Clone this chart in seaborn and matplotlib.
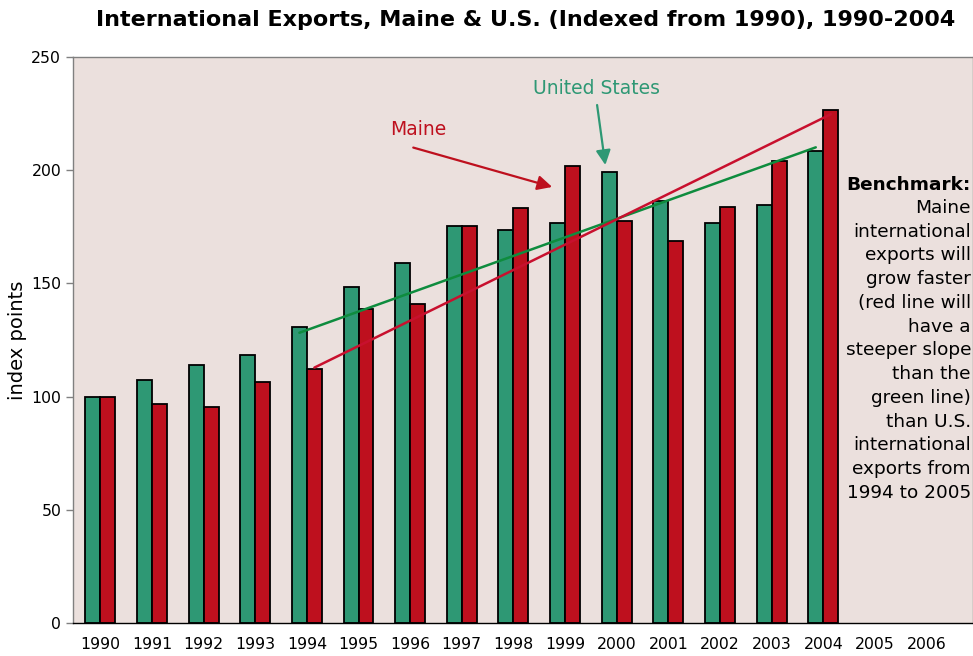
import numpy as np
import pandas as pd
import matplotlib
matplotlib.use("Agg")
import matplotlib.pyplot as plt
import seaborn as sns

# values (index, 1990 = 100)
years = [1990, 1991, 1992, 1993, 1994, 1995, 1996, 1997, 1998, 1999,
         2000, 2001, 2002, 2003, 2004]
axis_years = years + [2005, 2006]
us_index = [100, 107.5, 114.1, 118.5, 130.7, 148.4, 158.9, 175.5, 173.6,
            176.8, 199.1, 186.4, 176.8, 184.6, 208.6]
maine_index = [100, 96.9, 95.5, 106.3, 112.2, 138.6, 140.9, 175.5, 183.3,
               202.0, 177.6, 168.9, 183.6, 204.1, 226.6]

# trend lines, 1994 -> 2004
trend_years = [1994, 2004]
us_trend = [128.2, 210.1]
maine_trend = [112.8, 224.7]

benchmark = ["Maine", "international", "exports will", "grow faster",
             "(red line will", "have a", "steeper slope", "than the",
             "green line)", "than U.S.", "international", "exports from",
             "1994 to 2005"]

green = "#2E9874"
red = "#BE101E"
bg = "#EBE0DD"

df = pd.DataFrame({
    "year": [str(y) for y in years] * 2,
    "value": us_index + maine_index,
    "series": ["United States"] * len(years) + ["Maine"] * len(years),
})

sns.set_style("white")
plt.rcParams["font.family"] = ["DejaVu Sans"]
plt.rcParams["text.color"] = "black"
plt.rcParams["axes.labelcolor"] = "black"
plt.rcParams["xtick.color"] = "black"
plt.rcParams["ytick.color"] = "black"

fig = plt.figure(figsize=(9.73, 6.56), dpi=100)
ax = fig.add_axes([0.075, 0.0503, 0.925, 0.8628])
ax.set_facecolor(bg)

sns.barplot(data=df, x="year", y="value", hue="series",
            order=[str(y) for y in axis_years],
            hue_order=["United States", "Maine"],
            palette=[green, red], saturation=1, width=0.58,
            edgecolor="black", linewidth=1.3, legend=False, ax=ax)

# trend lines drawn from bar centres
half = 0.58 / 4
tx = [axis_years.index(y) for y in trend_years]
ax.plot([x - half for x in tx], us_trend, color="#0E8C3E", lw=1.8, zorder=5)
ax.plot([x + half for x in tx], maine_trend, color="#C8102E", lw=1.8, zorder=5)

ax.set_ylim(0, 250)
ax.set_yticks(range(0, 251, 50))
ax.set_xlim(-0.53, 16.9)
ax.set_xticks(range(len(axis_years)))
ax.set_xticklabels([str(y) for y in axis_years], fontsize=11.3)
ax.set_xticks(np.arange(-0.5, len(axis_years), 1), minor=True)
ax.tick_params(axis="x", which="major", length=0, pad=10)
ax.tick_params(axis="x", which="minor", length=5, width=1, color="black",
               direction="out")
ax.tick_params(axis="y", length=5, width=1, color="#808080",
               direction="out", labelsize=11.3, left=True)
ax.set_xlabel("")
ax.set_ylabel("index points", fontsize=14, labelpad=3)

for side in ["top", "left", "right"]:
    ax.spines[side].set_color("#808080")
    ax.spines[side].set_linewidth(1)
ax.spines["bottom"].set_color("black")
ax.spines["bottom"].set_linewidth(1)

# callouts
ax.text(6.16, 217.8, "Maine", color=red, fontsize=13.5,
        ha="center", va="center")
ax.annotate("", xy=(8.75, 192.6), xytext=(6.06, 210),
            arrowprops=dict(arrowstyle="-|>", color=red, lw=1.6,
                            mutation_scale=22, shrinkA=0, shrinkB=0))
ax.text(9.6, 235.9, "United States", color=green, fontsize=13.5,
        ha="center", va="center")
ax.annotate("", xy=(9.78, 202.3), xytext=(9.62, 228.8),
            arrowprops=dict(arrowstyle="-|>", color=green, lw=1.6,
                            mutation_scale=22, shrinkA=0, shrinkB=0))

fig.text(971 / 973, 1 - 185 / 656, "Benchmark:", fontsize=13.3,
         fontweight="bold", ha="right", va="center")
fig.text(971 / 973, 1 - 199 / 656, "\n".join(benchmark),
         fontsize=13.3, ha="right", va="top", linespacing=1.41)

fig.suptitle("International Exports, Maine & U.S. (Indexed from 1990), 1990-2004",
             x=0.54, y=0.985, fontsize=16, fontweight="bold", va="top")

fig.savefig("out.png", dpi=100, facecolor="white")
